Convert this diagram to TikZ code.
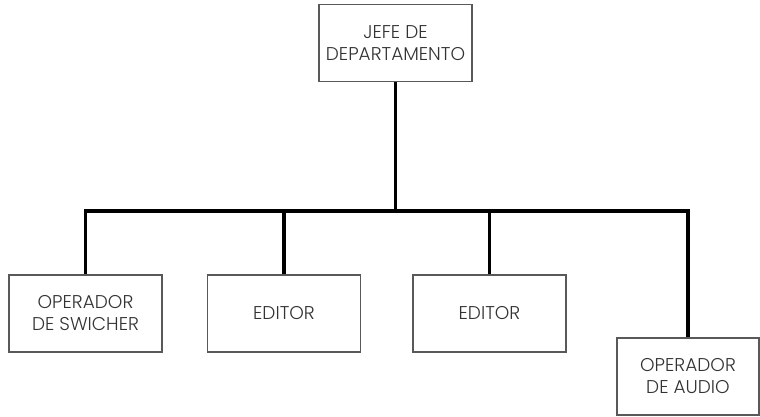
\documentclass[tikz,border=0pt]{standalone}
\usepackage{fontspec}
\setmainfont{Poppins}[UprightFont=* Light]
\usetikzlibrary{positioning}
\begin{document}
\begin{tikzpicture}[x=1pt,y=1pt,font=\fontsize{18.5}{22}\selectfont,
   puesto/.style={draw=black!65,line width=1.1pt,text=black!80,align=center,minimum width=153pt,minimum height=77pt,inner sep=0pt},
   linea/.style={line width=3.4pt}]
   \useasboundingbox (0,0) rectangle (760,-416);
   \node[puesto] (jefe) at (395.5,-43) {JEFE DE\\DEPARTAMENTO};
   \node[puesto] (swicher) at (85.5,-313.5) {OPERADOR\\DE SWICHER};
   \node[puesto] (editorA) at (284,-313.5) {EDITOR};
   \node[puesto] (editorB) at (489.5,-313.5) {EDITOR};
   \node[puesto,minimum width=142pt] (audio) at (688,-376.5) {OPERADOR\\DE AUDIO};
   \coordinate (barra) at (0,-211);
   \draw[linea] (swicher.north) |- (barra -| audio.north) -- (audio.north);
   \draw[linea] (jefe.south) -- (jefe.south |- barra);
   \foreach \n in {editorA,editorB} \draw[linea] (\n.north) -- (\n.north |- barra);
\end{tikzpicture}
\end{document}
